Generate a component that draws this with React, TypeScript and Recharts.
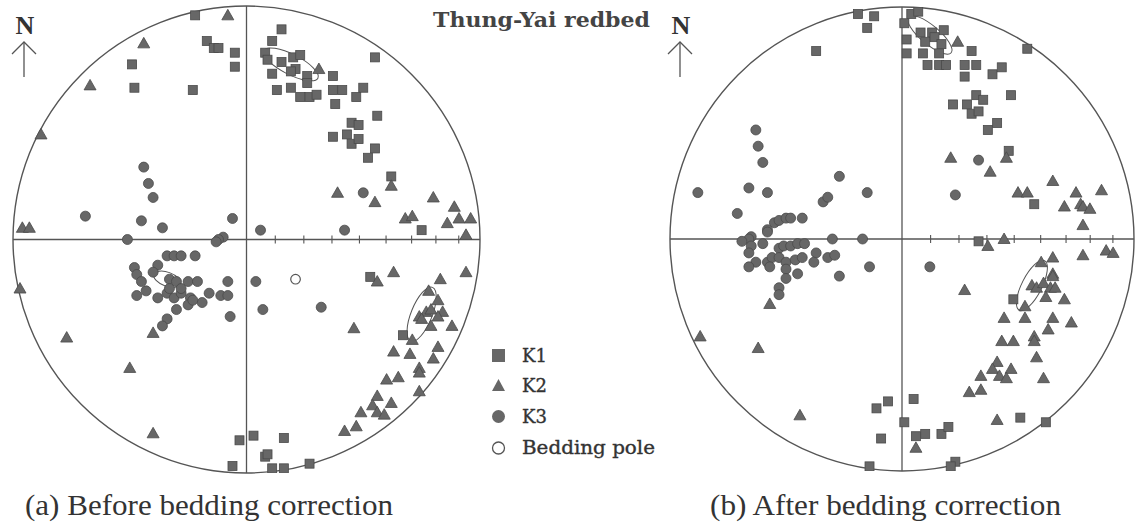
import { ScatterChart, Scatter, XAxis, YAxis, ReferenceLine, ReferenceDot } from "recharts"

// positions are in percent of the net radius (equal-area projection), x east, y north
type P = [number, number]

const beforeK1: P[] = [
  [-22, 96], [-17, 85], [-14, 82], [-12, 82], [-5, 80], [-5, 74], [-49, 75], [-48, 65], [-23, 64],
  [15, 90], [11, 85], [8, 80], [9, 77], [15, 76], [20, 78], [23, 79], [21, 73], [11, 71], [19, 72],
  [26, 70], [26, 67], [13, 64], [19, 65], [23, 61], [27, 61], [30, 62], [37, 70], [37, 64], [41, 64],
  [38, 58], [47, 61], [50, 65], [55, 78], [56, 53], [45, 50], [48, 49], [37, 44], [43, 45], [45, 41],
  [48, 43], [55, 39], [52, 35], [62, 27], [75, 4], [53, -16], [67, -41], [3, -84], [16, -85],
  [-3, -86], [8, -93], [9, -92], [11, -98], [16, -98], [27, -96], [-6, -97],
]

const beforeK2: P[] = [
  [-8, 96], [-44, 84], [-67, 66], [-88, 45], [-96, 5], [-93, 5], [31, 73], [62, 23], [39, 20],
  [55, 16], [80, 18], [89, 14], [68, 9], [71, 10], [86, 7], [91, 9], [96, 9], [94, 2],
  [-97, -21], [-77, -42], [-40, -40], [-50, -55], [-40, -83],
  [63, -14], [56, -18], [94, -14], [83, -17], [78, -22], [82, -26], [74, -33], [77, -31], [79, -30],
  [75, -34], [84, -31], [82, -33], [79, -37], [88, -37], [71, -43], [46, -38], [63, -48], [70, -49],
  [82, -46], [80, -51], [74, -55], [74, -57], [60, -60], [65, -59], [74, -65], [56, -67], [54, -71],
  [62, -70], [56, -74], [59, -75], [49, -74], [47, -80], [42, -82],
]

const beforeK3: P[] = [
  [-44, 31], [-42, 24], [-40, 18], [-69, 10], [-45, 8], [-36, 5], [-6, 9], [-51, 0], [-10, 1],
  [-12, 0], [-13, -1], [-34, -7], [-31, -7], [-28, -7], [-22, -7], [-48, -12], [-47, -15],
  [-45, -18], [-38, -11], [-40, -14], [-33, -17], [-30, -18], [-25, -18], [-21, -18], [-8, -18],
  [-47, -24], [-43, -22], [-38, -25], [-34, -23], [-31, -25], [-28, -23], [-24, -25], [-28, -21],
  [-33, -21], [-25, -28], [-30, -30], [-34, -34], [-36, -37], [-19, -27], [-16, -23], [-11, -24],
  [-8, -24], [-7, -33], [-23, -26], [6, 4], [42, 4], [50, 20], [4, -18], [7, -30], [32, -29],
]

const beforePole: P[] = [[21, -17]]

const afterK1: P[] = [
  [-19, 97], [-12, 96], [-15, 91], [-37, 81], [1, 93], [4, 97], [7, 98], [8, 89], [2, 86],
  [13, 89], [18, 90], [10, 85], [14, 87], [17, 84], [2, 80], [9, 80], [16, 80], [30, 81], [11, 75],
  [16, 75], [19, 75], [27, 75], [32, 75], [27, 70], [39, 71], [43, 74], [54, 82], [32, 62], [35, 60],
  [47, 62], [22, 58], [28, 58], [30, 54], [33, 55], [41, 50], [37, 47], [46, 38], [57, 15], [33, -1],
  [-6, -70], [-11, -73], [-9, -86], [-14, -98], [48, -26], [5, -69], [1, -79], [6, -85], [10, -84],
  [17, -84], [20, -81], [51, -77], [62, -79], [23, -96], [21, -98],
]

const afterK2: P[] = [
  [24, 85], [21, 35], [45, 35], [38, 29], [65, 25], [50, 20], [54, 20], [75, 20], [86, 21], [70, 14],
  [77, 15], [78, 14], [81, 13], [78, 6], [44, 0], [-57, -28], [-87, -42], [-62, -47], [-44, -76],
  [37, -3], [65, -8], [78, -7], [88, -5], [91, -6], [60, -10], [65, -15], [65, -16], [27, -22],
  [56, -20], [58, -21], [61, -19], [64, -21], [66, -21], [62, -25], [70, -26], [53, -29], [44, -34],
  [53, -34], [65, -34], [73, -36], [63, -39], [57, -42], [57, -44], [43, -44], [48, -44], [58, -51],
  [41, -53], [39, -56], [47, -56], [42, -59], [45, -60], [34, -59], [34, -65], [29, -66], [61, -60],
  [41, -78], [6, -90],
]

const afterK3: P[] = [
  [-63, 47], [-62, 40], [-60, 33], [-27, 27], [-88, 20], [-66, 22], [-58, 20], [-15, 20], [-34, 16],
  [-32, 18], [-71, 11], [-43, 9], [-55, 7], [-53, 8], [-50, 9], [-48, 9], [-58, 4], [-65, 1],
  [-30, 0], [-17, 0], [-66, 0], [-65, -3], [-60, -2], [-58, 3], [-69, -1], [-66, -6], [-63, -10],
  [-66, -12], [-58, -10], [-56, -8], [-53, -4], [-51, -3], [-48, -3], [-45, -2], [-42, -2], [-53, -8],
  [-50, -10], [-46, -9], [-43, -8], [-57, -12], [-50, -13], [-45, -15], [-50, -17], [-53, -21],
  [-53, -24], [-37, -6], [-38, -10], [-32, -8], [-29, -7], [-27, -16], [-14, -12], [33, 34], [23, 19],
  [12, -12],
]

// confidence ellipses: centre, semi-axes (percent of radius), rotation in degrees (clockwise)
const beforeEllipses = [
  { x: 19, y: 75, rx: 13, ry: 4.3, rot: 27 },
  { x: 75, y: -32, rx: 12.4, ry: 4.5, rot: -68 },
  { x: -34, y: -17, rx: 6, ry: 3, rot: 20 },
]
const afterEllipses = [
  { x: 12, y: 88, rx: 12, ry: 4, rot: 40 },
  { x: 56, y: -20, rx: 12, ry: 4.3, rot: -63 },
]

// dip ticks along the east axis, degrees
const tickDips = [10, 20, 30, 40, 50, 60, 70, 80]

const toPts = (a: P[]) => a.map(([x, y]) => ({ x, y }))
const ticks = tickDips.map((d) => ({ x: 100 * Math.SQRT2 * Math.sin((d * Math.PI) / 360), y: 0 }))

const INK = "#555"
const FILL = "#676767"
const EDGE = "#4a4a4a"

const square = (p: any) => (
  <rect x={p.cx - 4.5} y={p.cy - 4.5} width={9} height={9} fill={FILL} stroke={EDGE} strokeWidth={0.8} />
)
const triangle = (p: any) => (
  <polygon
    points={`${p.cx},${p.cy - 6} ${p.cx - 6},${p.cy + 4.5} ${p.cx + 6},${p.cy + 4.5}`}
    fill={FILL}
    stroke={EDGE}
    strokeWidth={0.8}
  />
)
const dot = (p: any) => <circle cx={p.cx} cy={p.cy} r={5} fill={FILL} stroke={EDGE} strokeWidth={0.8} />
const openDot = (p: any) => <circle cx={p.cx} cy={p.cy} r={4.8} fill="#fff" stroke={INK} strokeWidth={1.2} />
const tick = (p: any) => <line x1={p.cx} x2={p.cx} y1={p.cy - 4} y2={p.cy + 4} stroke={INK} strokeWidth={1.1} />
const ellipseShape = (k: number) => (p: any) => (
  <ellipse
    cx={p.cx}
    cy={p.cy}
    rx={p.payload.rx * k}
    ry={p.payload.ry * k}
    transform={`rotate(${p.payload.rot} ${p.cx} ${p.cy})`}
    fill="none"
    stroke={INK}
    strokeWidth={1}
  />
)

type NetProps = {
  cx: number
  cy: number
  radius: number
  k1: P[]
  k2: P[]
  k3: P[]
  pole?: P[]
  ellipses: { x: number; y: number; rx: number; ry: number; rot: number }[]
}

function Stereonet({ cx, cy, radius, k1, k2, k3, pole, ellipses }: NetProps) {
  const m = 12
  const size = radius * 2 + m * 2
  const k = radius / 100
  return (
    <div style={{ position: "absolute", left: cx - radius - m, top: cy - radius - m }}>
      <ScatterChart width={size} height={size} margin={{ top: m, right: m, bottom: m, left: m }}>
        <XAxis type="number" dataKey="x" domain={[-100, 100]} allowDataOverflow hide />
        <YAxis type="number" dataKey="y" domain={[-100, 100]} allowDataOverflow hide />
        <ReferenceLine x={0} stroke={INK} strokeWidth={1.3} />
        <ReferenceLine y={0} stroke={INK} strokeWidth={1.3} />
        <ReferenceDot x={0} y={0} r={radius} fill="none" stroke={INK} strokeWidth={1.4} />
        <Scatter data={ticks} shape={tick} isAnimationActive={false} />
        <Scatter data={ellipses} shape={ellipseShape(k)} isAnimationActive={false} />
        <Scatter data={toPts(k1)} shape={square} isAnimationActive={false} />
        <Scatter data={toPts(k2)} shape={triangle} isAnimationActive={false} />
        <Scatter data={toPts(k3)} shape={dot} isAnimationActive={false} />
        {pole && <Scatter data={toPts(pole)} shape={openDot} isAnimationActive={false} />}
      </ScatterChart>
    </div>
  )
}

const serif = "'Liberation Serif', 'Times New Roman', serif"
const wide = "'DejaVu Serif', serif"
const TEXT = "#333"

function NorthArrow({ x }: { x: number }) {
  return (
    <g>
      <text x={x + 1} y={34} textAnchor="middle" fontFamily={serif} fontWeight="bold" fontSize={26} fill={TEXT}>
        N
      </text>
      <line x1={x} x2={x} y1={42} y2={77} stroke={INK} strokeWidth={1.3} />
      <polyline points={`${x - 12},${54} ${x},${42} ${x + 12},${54}`} fill="none" stroke={INK} strokeWidth={1.3} />
    </g>
  )
}

export default function App() {
  return (
    <div
      style={{
        position: "absolute",
        left: 0,
        top: 0,
        width: 1137,
        height: 522,
        overflow: "hidden",
        background: "#fff",
      }}
    >
      <Stereonet cx={246.5} cy={239.5} radius={233.5} k1={beforeK1} k2={beforeK2} k3={beforeK3} pole={beforePole} ellipses={beforeEllipses} />
      <Stereonet cx={902} cy={239} radius={232} k1={afterK1} k2={afterK2} k3={afterK3} ellipses={afterEllipses} />
      <svg width={1137} height={522} style={{ position: "absolute", left: 0, top: 0, pointerEvents: "none" }}>
        <NorthArrow x={24} />
        <NorthArrow x={680} />
        <text x={433} y={27} fontFamily={wide} fontWeight="bold" fontSize={21} fill="#444" textLength={217} lengthAdjust="spacingAndGlyphs">
          Thung-Yai redbed
        </text>
        <rect x={492} y={349} width={13} height={13} fill={FILL} />
        <polygon points="498.5,379 492,391 505,391" fill={FILL} />
        <circle cx={498.5} cy={416.5} r={6.5} fill={FILL} />
        <circle cx={498.5} cy={448} r={6} fill="#fff" stroke={INK} strokeWidth={1.3} />
        <g fontFamily={wide} fontSize={18} fill={TEXT} stroke={TEXT} strokeWidth={0.35}>
          <text x={522} y={362}>K1</text>
          <text x={522} y={392}>K2</text>
          <text x={522} y={423}>K3</text>
          <text x={522} y={454} textLength={133} lengthAdjust="spacingAndGlyphs">Bedding pole</text>
        </g>
        <g fontFamily={serif} fontSize={29} fill="#333">
          <text x={25} y={515} textLength={368} lengthAdjust="spacingAndGlyphs">(a) Before bedding correction</text>
          <text x={710} y={515} textLength={351} lengthAdjust="spacingAndGlyphs">(b) After bedding correction</text>
        </g>
      </svg>
    </div>
  )
}
